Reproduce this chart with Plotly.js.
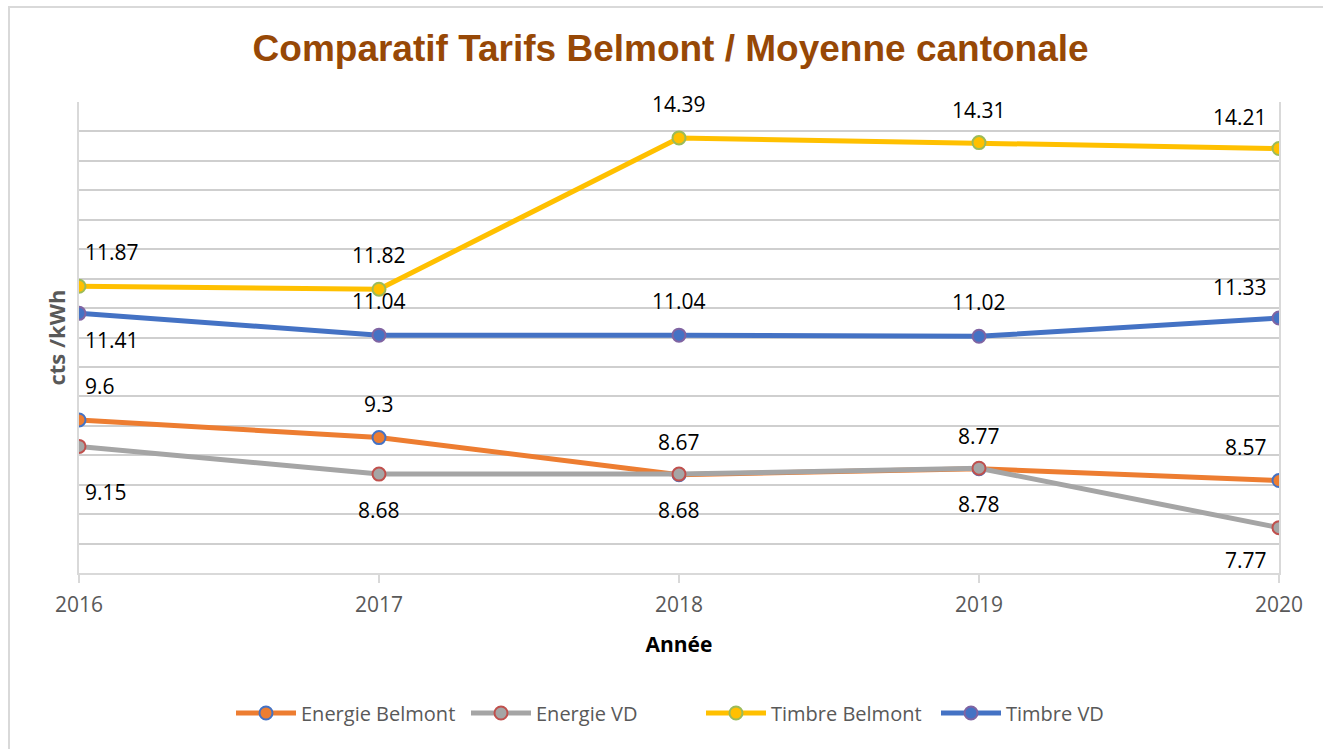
<!DOCTYPE html>
<html>
<head>
<meta charset="utf-8">
<script src="https://cdn.plot.ly/plotly-3.0.1.min.js"></script>
<style>
  html, body { margin: 0; padding: 0; width: 1323px; height: 749px; overflow: hidden; background: #ffffff; }
  #frame { position: absolute; left: 8px; top: 6px; width: 1400px; height: 800px; border: 2px solid #D9D9D9; box-sizing: border-box; }
  #chart { position: absolute; left: 0; top: 0; width: 1323px; height: 749px; }
</style>
</head>
<body>
<div id="frame"></div>
<div id="chart"></div>
<script>
// ---- data ----
const years = [2016, 2017, 2018, 2019, 2020];
const energieBelmont = [9.6, 9.3, 8.67, 8.77, 8.57];
const energieVD = [9.15, 8.68, 8.68, 8.78, 7.77];
const timbreBelmont = [11.87, 11.82, 14.39, 14.31, 14.21];
const timbreVD = [11.41, 11.04, 11.04, 11.02, 11.33];
const seriesNames = ["Energie Belmont", "Energie VD", "Timbre Belmont", "Timbre VD"];

// ---- style ----
const lineColors = ["#ED7D31", "#A5A5A5", "#FFC000", "#4472C4"];
const markerEdge = ["#4472C4", "#C0504D", "#9BBB59", "#8064A2"];
// vertical offsets (px, down positive) of each data label relative to its point
const labelDy = [
  [-34, -34, -33, -33, -34],
  [46, 36, 36, 36, 32],
  [-34, -34, -34, -33, -32],
  [27, -34, -34, -34, -31]
];

const allSeries = [energieBelmont, energieVD, timbreBelmont, timbreVD];

const traces = allSeries.map((vals, k) => ({
  type: "scatter",
  mode: "lines+markers",
  name: seriesNames[k],
  x: years,
  y: vals,
  line: { color: lineColors[k], width: 5 },
  marker: { color: lineColors[k], size: 13, line: { color: markerEdge[k], width: 2 } },
  hoverinfo: "x+y+name"
}));

const annotations = [];
allSeries.forEach((vals, k) => {
  vals.forEach((v, i) => {
    const last = i === vals.length - 1;
    const first = i === 0;
    annotations.push({
      x: years[i], y: v, xref: "x", yref: "y",
      text: String(v),
      showarrow: false,
      xanchor: first ? "left" : (last ? "right" : "center"),
      xshift: first ? 4 : (last ? -10 : 0),
      yshift: -labelDy[k][i],
      font: { family: "Open Sans, sans-serif", size: 21, color: "#000000" }
    });
  });
});

const layout = {
  width: 1323,
  height: 749,
  paper_bgcolor: "rgba(0,0,0,0)",
  plot_bgcolor: "rgba(0,0,0,0)",
  margin: { l: 79, r: 44, t: 102, b: 176, autoexpand: false },
  title: {
    text: "<b>Comparatif Tarifs Belmont / Moyenne cantonale</b>",
    font: { family: "Liberation Sans, Arial, sans-serif", size: 37, color: "#974806" },
    x: 0.493, xanchor: "center", xref: "paper",
    y: 1 - 48 / 749, yanchor: "middle", yref: "container"
  },
  xaxis: {
    range: [2016, 2020],
    tickvals: years,
    ticktext: years.map(String),
    showgrid: false,
    zeroline: false,
    showline: true, linecolor: "#D9D9D9", linewidth: 2,
    ticks: "outside", ticklen: 8, tickwidth: 2, tickcolor: "#D9D9D9",
    ticklabelstandoff: 4,
    tickfont: { family: "Open Sans, sans-serif", size: 21, color: "#595959" },
    title: { text: "<b>Année</b>", standoff: 20, font: { family: "Open Sans, sans-serif", size: 21, color: "#000000" } },
    fixedrange: true, automargin: false
  },
  yaxis: {
    range: [7, 15],
    dtick: 0.5,
    tick0: 7,
    showticklabels: false,
    ticks: "",
    showgrid: true, gridcolor: "#CFCFCF", gridwidth: 2,
    zeroline: false,
    showline: true, mirror: true, linecolor: "#D9D9D9", linewidth: 2,
    title: { text: "<b>cts /kWh</b>", standoff: 5, font: { family: "Open Sans, sans-serif", size: 22, color: "#595959" } },
    fixedrange: true, automargin: false
  },
  legend: {
    orientation: "h",
    x: (231 - 79) / 1200, xanchor: "left",
    y: (573 - 713) / 471, yanchor: "middle",
    font: { family: "Open Sans, sans-serif", size: 20, color: "#595959" },
    itemwidth: 60,
    entrywidth: 160,
    entrywidthmode: "pixels"
  },
  annotations: annotations,
  showlegend: true
};

Plotly.newPlot("chart", traces, layout, { displayModeBar: false, staticPlot: false });
</script>
</body>
</html>
